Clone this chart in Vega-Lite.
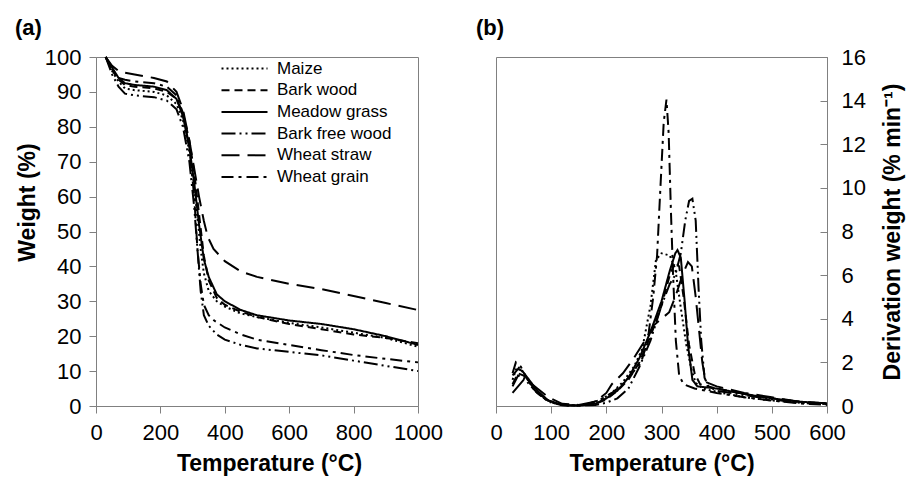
{
  "$schema": "https://vega.github.io/schema/vega-lite/v6.json",
  "background": "white",
  "padding": {"left": 14, "top": 16, "right": 5, "bottom": 5},
  "config": {
    "font": "Liberation Sans",
    "view": {"stroke": "#808080", "strokeWidth": 1},
    "axis": {"grid": false, "domainColor": "#808080", "tickColor": "#808080", "labelColor": "black", "labelFont": "Liberation Sans", "labelFontSize": 22, "titleFont": "Liberation Sans", "titleFontSize": 23, "titleFontWeight": "bold", "titleColor": "black", "tickSize": 7, "labelPadding": 6, "labelOverlap": false, "labelFlush": false, "format": "d"},
    "title": {"font": "Liberation Sans", "fontSize": 22, "fontWeight": "bold", "anchor": "start", "frame": "group", "offset": 6},
    "concat": {"spacing": 32}
  },
  "datasets": {
    "tga": [
      {"S":"Maize","T":30,"W":100},{"S":"Maize","T":50,"W":96},{"S":"Maize","T":70,"W":93},{"S":"Maize","T":90,"W":91},{"S":"Maize","T":120,"W":90.5},{"S":"Maize","T":180,"W":90},{"S":"Maize","T":220,"W":89},{"S":"Maize","T":250,"W":86.5},{"S":"Maize","T":270,"W":82},{"S":"Maize","T":290,"W":73},{"S":"Maize","T":305,"W":63},{"S":"Maize","T":315,"W":54},{"S":"Maize","T":325,"W":45},{"S":"Maize","T":335,"W":38},{"S":"Maize","T":350,"W":33},{"S":"Maize","T":375,"W":30},{"S":"Maize","T":400,"W":28.5},{"S":"Maize","T":450,"W":26.5},{"S":"Maize","T":500,"W":25.5},{"S":"Maize","T":600,"W":23.8},{"S":"Maize","T":700,"W":22.5},{"S":"Maize","T":800,"W":21},{"S":"Maize","T":900,"W":19.5},{"S":"Maize","T":1000,"W":17},
      {"S":"Bark wood","T":30,"W":100},{"S":"Bark wood","T":50,"W":96.5},{"S":"Bark wood","T":70,"W":93.5},{"S":"Bark wood","T":90,"W":92},{"S":"Bark wood","T":120,"W":91.5},{"S":"Bark wood","T":180,"W":91},{"S":"Bark wood","T":220,"W":90},{"S":"Bark wood","T":250,"W":88},{"S":"Bark wood","T":270,"W":84},{"S":"Bark wood","T":290,"W":76},{"S":"Bark wood","T":305,"W":67},{"S":"Bark wood","T":320,"W":55},{"S":"Bark wood","T":335,"W":43},{"S":"Bark wood","T":350,"W":36},{"S":"Bark wood","T":375,"W":31},{"S":"Bark wood","T":400,"W":29},{"S":"Bark wood","T":450,"W":27},{"S":"Bark wood","T":500,"W":25.5},{"S":"Bark wood","T":600,"W":23.5},{"S":"Bark wood","T":700,"W":22},{"S":"Bark wood","T":800,"W":20.5},{"S":"Bark wood","T":900,"W":19.5},{"S":"Bark wood","T":1000,"W":18},
      {"S":"Meadow grass","T":30,"W":100},{"S":"Meadow grass","T":50,"W":97},{"S":"Meadow grass","T":70,"W":94},{"S":"Meadow grass","T":90,"W":92.5},{"S":"Meadow grass","T":120,"W":92},{"S":"Meadow grass","T":180,"W":91.5},{"S":"Meadow grass","T":220,"W":90.5},{"S":"Meadow grass","T":250,"W":88},{"S":"Meadow grass","T":270,"W":83},{"S":"Meadow grass","T":290,"W":74},{"S":"Meadow grass","T":305,"W":64},{"S":"Meadow grass","T":320,"W":52},{"S":"Meadow grass","T":335,"W":42},{"S":"Meadow grass","T":350,"W":37},{"S":"Meadow grass","T":375,"W":32},{"S":"Meadow grass","T":400,"W":30},{"S":"Meadow grass","T":450,"W":27.5},{"S":"Meadow grass","T":500,"W":26},{"S":"Meadow grass","T":600,"W":24.5},{"S":"Meadow grass","T":700,"W":23.5},{"S":"Meadow grass","T":800,"W":22},{"S":"Meadow grass","T":900,"W":20},{"S":"Meadow grass","T":1000,"W":17.5},
      {"S":"Bark free wood","T":30,"W":100},{"S":"Bark free wood","T":50,"W":95},{"S":"Bark free wood","T":70,"W":91.5},{"S":"Bark free wood","T":90,"W":89.5},{"S":"Bark free wood","T":120,"W":89},{"S":"Bark free wood","T":180,"W":88.5},{"S":"Bark free wood","T":220,"W":87.5},{"S":"Bark free wood","T":250,"W":85},{"S":"Bark free wood","T":270,"W":80},{"S":"Bark free wood","T":290,"W":70},{"S":"Bark free wood","T":305,"W":57},{"S":"Bark free wood","T":315,"W":45},{"S":"Bark free wood","T":325,"W":33},{"S":"Bark free wood","T":335,"W":26},{"S":"Bark free wood","T":350,"W":23},{"S":"Bark free wood","T":375,"W":20.5},{"S":"Bark free wood","T":400,"W":19},{"S":"Bark free wood","T":450,"W":17.5},{"S":"Bark free wood","T":500,"W":16.5},{"S":"Bark free wood","T":600,"W":15.5},{"S":"Bark free wood","T":700,"W":14.5},{"S":"Bark free wood","T":800,"W":13},{"S":"Bark free wood","T":900,"W":11.5},{"S":"Bark free wood","T":1000,"W":10},
      {"S":"Wheat straw","T":30,"W":100},{"S":"Wheat straw","T":50,"W":97.5},{"S":"Wheat straw","T":70,"W":96},{"S":"Wheat straw","T":90,"W":95.5},{"S":"Wheat straw","T":120,"W":95},{"S":"Wheat straw","T":180,"W":94},{"S":"Wheat straw","T":220,"W":93},{"S":"Wheat straw","T":250,"W":90},{"S":"Wheat straw","T":270,"W":85},{"S":"Wheat straw","T":290,"W":76},{"S":"Wheat straw","T":305,"W":68},{"S":"Wheat straw","T":320,"W":60},{"S":"Wheat straw","T":335,"W":53},{"S":"Wheat straw","T":347,"W":48.5},{"S":"Wheat straw","T":365,"W":45},{"S":"Wheat straw","T":400,"W":41.5},{"S":"Wheat straw","T":450,"W":38.5},{"S":"Wheat straw","T":500,"W":37},{"S":"Wheat straw","T":600,"W":35},{"S":"Wheat straw","T":700,"W":33.5},{"S":"Wheat straw","T":800,"W":31.5},{"S":"Wheat straw","T":900,"W":29.5},{"S":"Wheat straw","T":1000,"W":27.5},
      {"S":"Wheat grain","T":30,"W":100},{"S":"Wheat grain","T":50,"W":96},{"S":"Wheat grain","T":70,"W":94},{"S":"Wheat grain","T":90,"W":93.5},{"S":"Wheat grain","T":120,"W":93},{"S":"Wheat grain","T":180,"W":92.5},{"S":"Wheat grain","T":220,"W":91.5},{"S":"Wheat grain","T":250,"W":89},{"S":"Wheat grain","T":270,"W":84},{"S":"Wheat grain","T":290,"W":74},{"S":"Wheat grain","T":305,"W":60},{"S":"Wheat grain","T":315,"W":45},{"S":"Wheat grain","T":325,"W":35},{"S":"Wheat grain","T":335,"W":29},{"S":"Wheat grain","T":350,"W":26},{"S":"Wheat grain","T":367,"W":24.5},{"S":"Wheat grain","T":400,"W":22.5},{"S":"Wheat grain","T":450,"W":20.5},{"S":"Wheat grain","T":500,"W":19},{"S":"Wheat grain","T":600,"W":17.5},{"S":"Wheat grain","T":700,"W":16},{"S":"Wheat grain","T":800,"W":14.6},{"S":"Wheat grain","T":900,"W":13.5},{"S":"Wheat grain","T":1000,"W":12.5}
    ],
    "dtg": [
      {"S":"Maize","T":30,"D":1.2},{"S":"Maize","T":38,"D":1.8},{"S":"Maize","T":45,"D":1.7},{"S":"Maize","T":55,"D":1.3},{"S":"Maize","T":70,"D":0.7},{"S":"Maize","T":90,"D":0.3},{"S":"Maize","T":110,"D":0.1},{"S":"Maize","T":130,"D":0.02},{"S":"Maize","T":150,"D":0.02},{"S":"Maize","T":170,"D":0.1},{"S":"Maize","T":190,"D":0.3},{"S":"Maize","T":210,"D":0.6},{"S":"Maize","T":230,"D":1.1},{"S":"Maize","T":250,"D":1.8},{"S":"Maize","T":265,"D":2.6},{"S":"Maize","T":280,"D":4.6},{"S":"Maize","T":290,"D":6.7},{"S":"Maize","T":300,"D":7.0},{"S":"Maize","T":315,"D":6.9},{"S":"Maize","T":325,"D":6.3},{"S":"Maize","T":335,"D":4.5},{"S":"Maize","T":345,"D":2.8},{"S":"Maize","T":355,"D":1.6},{"S":"Maize","T":362,"D":1.06},{"S":"Maize","T":375,"D":0.8},{"S":"Maize","T":400,"D":0.65},{"S":"Maize","T":450,"D":0.4},{"S":"Maize","T":500,"D":0.25},{"S":"Maize","T":550,"D":0.15},{"S":"Maize","T":600,"D":0.1},
      {"S":"Bark wood","T":30,"D":1.0},{"S":"Bark wood","T":40,"D":1.5},{"S":"Bark wood","T":50,"D":1.4},{"S":"Bark wood","T":60,"D":1.1},{"S":"Bark wood","T":75,"D":0.6},{"S":"Bark wood","T":95,"D":0.25},{"S":"Bark wood","T":120,"D":0.05},{"S":"Bark wood","T":150,"D":0.02},{"S":"Bark wood","T":180,"D":0.1},{"S":"Bark wood","T":200,"D":0.3},{"S":"Bark wood","T":220,"D":0.7},{"S":"Bark wood","T":240,"D":1.2},{"S":"Bark wood","T":260,"D":2.0},{"S":"Bark wood","T":280,"D":3.2},{"S":"Bark wood","T":300,"D":4.6},{"S":"Bark wood","T":315,"D":6.0},{"S":"Bark wood","T":325,"D":6.6},{"S":"Bark wood","T":332,"D":6.4},{"S":"Bark wood","T":340,"D":5.0},{"S":"Bark wood","T":350,"D":2.8},{"S":"Bark wood","T":360,"D":1.5},{"S":"Bark wood","T":370,"D":1.0},{"S":"Bark wood","T":400,"D":0.8},{"S":"Bark wood","T":450,"D":0.55},{"S":"Bark wood","T":500,"D":0.35},{"S":"Bark wood","T":550,"D":0.2},{"S":"Bark wood","T":600,"D":0.1},
      {"S":"Meadow grass","T":30,"D":1.4},{"S":"Meadow grass","T":40,"D":1.7},{"S":"Meadow grass","T":48,"D":1.6},{"S":"Meadow grass","T":60,"D":1.2},{"S":"Meadow grass","T":75,"D":0.7},{"S":"Meadow grass","T":95,"D":0.25},{"S":"Meadow grass","T":120,"D":0.05},{"S":"Meadow grass","T":150,"D":0.02},{"S":"Meadow grass","T":180,"D":0.1},{"S":"Meadow grass","T":200,"D":0.35},{"S":"Meadow grass","T":220,"D":0.7},{"S":"Meadow grass","T":240,"D":1.3},{"S":"Meadow grass","T":260,"D":2.2},{"S":"Meadow grass","T":280,"D":3.4},{"S":"Meadow grass","T":300,"D":4.8},{"S":"Meadow grass","T":315,"D":6.2},{"S":"Meadow grass","T":325,"D":7.0},{"S":"Meadow grass","T":329,"D":7.15},{"S":"Meadow grass","T":335,"D":6.8},{"S":"Meadow grass","T":342,"D":4.8},{"S":"Meadow grass","T":348,"D":2.8},{"S":"Meadow grass","T":356,"D":1.2},{"S":"Meadow grass","T":365,"D":0.9},{"S":"Meadow grass","T":400,"D":0.8},{"S":"Meadow grass","T":450,"D":0.55},{"S":"Meadow grass","T":500,"D":0.35},{"S":"Meadow grass","T":550,"D":0.2},{"S":"Meadow grass","T":600,"D":0.12},
      {"S":"Bark free wood","T":30,"D":0.9},{"S":"Bark free wood","T":40,"D":1.4},{"S":"Bark free wood","T":50,"D":1.3},{"S":"Bark free wood","T":60,"D":1.0},{"S":"Bark free wood","T":75,"D":0.6},{"S":"Bark free wood","T":95,"D":0.2},{"S":"Bark free wood","T":120,"D":0.03},{"S":"Bark free wood","T":150,"D":0.02},{"S":"Bark free wood","T":180,"D":0.05},{"S":"Bark free wood","T":200,"D":0.15},{"S":"Bark free wood","T":220,"D":0.35},{"S":"Bark free wood","T":240,"D":0.8},{"S":"Bark free wood","T":260,"D":1.8},{"S":"Bark free wood","T":280,"D":3.0},{"S":"Bark free wood","T":300,"D":4.6},{"S":"Bark free wood","T":315,"D":5.6},{"S":"Bark free wood","T":325,"D":6.0},{"S":"Bark free wood","T":335,"D":7.0},{"S":"Bark free wood","T":343,"D":8.5},{"S":"Bark free wood","T":350,"D":9.4},{"S":"Bark free wood","T":356,"D":9.5},{"S":"Bark free wood","T":362,"D":8.5},{"S":"Bark free wood","T":367,"D":5.5},{"S":"Bark free wood","T":372,"D":3.0},{"S":"Bark free wood","T":378,"D":1.3},{"S":"Bark free wood","T":385,"D":0.9},{"S":"Bark free wood","T":400,"D":0.7},{"S":"Bark free wood","T":450,"D":0.5},{"S":"Bark free wood","T":500,"D":0.3},{"S":"Bark free wood","T":550,"D":0.15},{"S":"Bark free wood","T":600,"D":0.08},
      {"S":"Wheat straw","T":30,"D":0.6},{"S":"Wheat straw","T":40,"D":0.9},{"S":"Wheat straw","T":50,"D":1.2},{"S":"Wheat straw","T":60,"D":1.1},{"S":"Wheat straw","T":75,"D":0.8},{"S":"Wheat straw","T":95,"D":0.4},{"S":"Wheat straw","T":120,"D":0.1},{"S":"Wheat straw","T":150,"D":0.05},{"S":"Wheat straw","T":180,"D":0.2},{"S":"Wheat straw","T":200,"D":0.6},{"S":"Wheat straw","T":210,"D":1.0},{"S":"Wheat straw","T":230,"D":1.5},{"S":"Wheat straw","T":250,"D":2.2},{"S":"Wheat straw","T":270,"D":3.0},{"S":"Wheat straw","T":286,"D":3.7},{"S":"Wheat straw","T":300,"D":4.0},{"S":"Wheat straw","T":314,"D":4.3},{"S":"Wheat straw","T":325,"D":5.0},{"S":"Wheat straw","T":338,"D":6.0},{"S":"Wheat straw","T":348,"D":6.6},{"S":"Wheat straw","T":355,"D":6.4},{"S":"Wheat straw","T":362,"D":5.0},{"S":"Wheat straw","T":368,"D":3.5},{"S":"Wheat straw","T":374,"D":2.0},{"S":"Wheat straw","T":380,"D":1.1},{"S":"Wheat straw","T":400,"D":0.9},{"S":"Wheat straw","T":450,"D":0.6},{"S":"Wheat straw","T":500,"D":0.4},{"S":"Wheat straw","T":550,"D":0.2},{"S":"Wheat straw","T":600,"D":0.12},
      {"S":"Wheat grain","T":30,"D":1.5},{"S":"Wheat grain","T":36,"D":2.0},{"S":"Wheat grain","T":45,"D":1.8},{"S":"Wheat grain","T":55,"D":1.3},{"S":"Wheat grain","T":70,"D":0.8},{"S":"Wheat grain","T":90,"D":0.3},{"S":"Wheat grain","T":110,"D":0.08},{"S":"Wheat grain","T":130,"D":0.02},{"S":"Wheat grain","T":160,"D":0.05},{"S":"Wheat grain","T":190,"D":0.3},{"S":"Wheat grain","T":210,"D":0.6},{"S":"Wheat grain","T":230,"D":1.0},{"S":"Wheat grain","T":250,"D":1.6},{"S":"Wheat grain","T":263,"D":2.0},{"S":"Wheat grain","T":275,"D":3.0},{"S":"Wheat grain","T":285,"D":5.0},{"S":"Wheat grain","T":292,"D":6.9},{"S":"Wheat grain","T":298,"D":10.0},{"S":"Wheat grain","T":304,"D":13.0},{"S":"Wheat grain","T":309,"D":14.05},{"S":"Wheat grain","T":313,"D":12.5},{"S":"Wheat grain","T":317,"D":9.0},{"S":"Wheat grain","T":321,"D":6.0},{"S":"Wheat grain","T":326,"D":3.0},{"S":"Wheat grain","T":332,"D":1.4},{"S":"Wheat grain","T":340,"D":1.0},{"S":"Wheat grain","T":360,"D":0.8},{"S":"Wheat grain","T":400,"D":0.6},{"S":"Wheat grain","T":450,"D":0.4},{"S":"Wheat grain","T":500,"D":0.25},{"S":"Wheat grain","T":550,"D":0.12},{"S":"Wheat grain","T":600,"D":0.05}
    ]
  },
  "resolve": {"scale": {"strokeDash": "independent", "strokeWidth": "independent"}, "legend": {"strokeDash": "independent", "strokeWidth": "independent"}},
  "hconcat": [
    {
      "title": {"text": "(a)", "dx": -81},
      "width": 322,
      "height": 349,
      "data": {"name": "tga"},
      "mark": {"type": "line", "color": "black"},
      "encoding": {
        "x": {"field": "T", "type": "quantitative", "scale": {"domain": [0, 1000], "nice": false}, "axis": {"values": [0, 200, 400, 600, 800, 1000], "title": "Temperature (°C)", "titleX": 173, "labelPadding": 9, "titlePadding": 9}},
        "y": {"field": "W", "type": "quantitative", "scale": {"domain": [0, 100], "nice": false}, "axis": {"values": [0, 10, 20, 30, 40, 50, 60, 70, 80, 90, 100], "title": "Weight (%)", "titleY": 145, "labelPadding": 8, "titlePadding": 5}},
        "strokeDash": {
          "field": "S", "type": "nominal",
          "scale": {"domain": ["Maize", "Bark wood", "Meadow grass", "Bark free wood", "Wheat straw", "Wheat grain"], "range": [[2, 3], [8, 5], [1, 0], [14, 4, 2, 4, 2, 4], [18, 8], [12, 5, 3, 5]]},
          "legend": {"orient": "none", "legendX": 140, "legendY": 3, "title": null, "padding": 0, "symbolType": "M-4.6,0H4.6", "symbolSize": 100, "symbolStrokeColor": "black", "symbolStrokeWidth": 2, "labelFont": "Liberation Sans", "labelFontSize": 17, "labelColor": "black", "labelOffset": 24, "rowPadding": 3.7}
        },
        "strokeWidth": {
          "field": "S", "type": "nominal",
          "scale": {"domain": ["Maize", "Bark wood", "Meadow grass", "Bark free wood", "Wheat straw", "Wheat grain"], "range": [2, 2, 2, 1.2, 2.5, 2.5]},
          "legend": null
        }
      }
    },
    {
      "title": {"text": "(b)", "dx": -20},
      "width": 331,
      "height": 349,
      "data": {"name": "dtg"},
      "mark": {"type": "line", "color": "black"},
      "encoding": {
        "x": {"field": "T", "type": "quantitative", "scale": {"domain": [0, 600], "nice": false}, "axis": {"values": [0, 100, 200, 300, 400, 500, 600], "title": "Temperature (°C)", "labelPadding": 9, "titlePadding": 9}},
        "y": {"field": "D", "type": "quantitative", "scale": {"domain": [0, 16], "nice": false}, "axis": {"orient": "right", "values": [0, 2, 4, 6, 8, 10, 12, 14, 16], "title": "Derivation weight  (% min⁻¹)", "titleAngle": 270, "titleBaseline": "top", "tickSize": -7, "labelPadding": 21, "titlePadding": 16}},
        "strokeDash": {
          "field": "S", "type": "nominal",
          "scale": {"domain": ["Maize", "Bark wood", "Meadow grass", "Bark free wood", "Wheat straw", "Wheat grain"], "range": [[2, 3], [8, 5], [1, 0], [14, 4, 2, 4, 2, 4], [18, 8], [12, 5, 3, 5]]},
          "legend": null
        },
        "strokeWidth": {
          "field": "S", "type": "nominal",
          "scale": {"domain": ["Maize", "Bark wood", "Meadow grass", "Bark free wood", "Wheat straw", "Wheat grain"], "range": [2, 2, 2, 1.2, 2.5, 2.5]},
          "legend": null
        }
      }
    }
  ]
}
